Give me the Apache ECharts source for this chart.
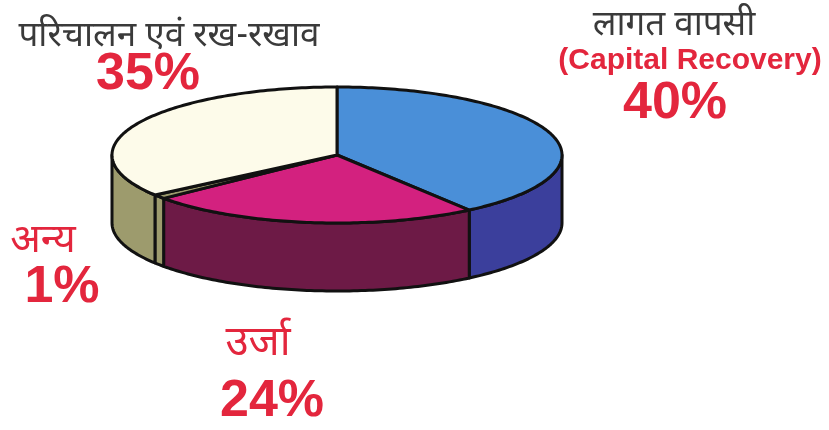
<!DOCTYPE html>
<html>
<head>
<meta charset="utf-8">
<script src="https://cdn.jsdelivr.net/npm/echarts@6/dist/echarts.min.js"></script>
<style>
  html, body { margin: 0; padding: 0; background: #ffffff; }
  #chart { width: 829px; height: 430px; }
</style>
</head>
<body>
<div id="chart"></div>
<script>
// Cost shares, clockwise from twelve o'clock
const categories = ['लागत वापसी', 'उर्जा', 'अन्य', 'परिचालन एवं रख-रखाव'];
const notes = ['(Capital Recovery)', '', '', ''];
const shares = [40, 24, 1, 35];

// Slice colours: top face and the darker outer wall
const topColors = ['#4a8fd8', '#d3217f', '#9d9b6d', '#fdfbea'];
const sideColors = ['#3b3f9c', '#6d1a46', '#9d9b6d', '#9d9b6d'];

// Tilted disc geometry (pixels)
const disc = { cx: 337, cy: 155, rx: 225, ry: 68, depth: 68, start: -90 };

// Label anchors (centre points) and text sizes for each slice
const labelLayout = [
  { name: [674, 28], nameSize: 35, note: [690, 61], value: [675, 104], nameColor: '#3a3a3a' },
  { name: [258, 347], nameSize: 42, value: [272, 402], nameColor: '#e3263d' },
  { name: [43, 245], nameSize: 40, value: [62, 288], nameColor: '#e3263d' },
  { name: [169, 39], nameSize: 35, value: [148, 75], nameColor: '#3a3a3a' }
];

const RED = '#e3263d';
const HINDI_FONT = '"Noto Sans Devanagari", "Lohit Devanagari", "Noto Sans", "DejaVu Sans", sans-serif';
const LATIN_FONT = '"Liberation Sans", Arial, sans-serif';
const OUTLINE = { stroke: '#111111', lineWidth: 3, lineJoin: 'round' };

const total = shares.reduce((a, b) => a + b, 0);

function arcPoints(a0, a1, dy) {
  const pts = [];
  const n = Math.max(2, Math.ceil(Math.abs(a1 - a0)));
  for (let k = 0; k <= n; k++) {
    const t = (a0 + (a1 - a0) * k / n) * Math.PI / 180;
    pts.push([disc.cx + disc.rx * Math.cos(t), disc.cy + dy + disc.ry * Math.sin(t)]);
  }
  return pts;
}

function renderSlice(params, api) {
  const i = params.dataIndex;
  const value = api.value(1);
  let before = 0;
  for (let k = 0; k < i; k++) before += shares[k];
  const a0 = disc.start + before / total * 360;
  const a1 = a0 + value / total * 360;

  const children = [];

  // Outer wall: only the front half of the disc (0..180 degrees) faces the viewer
  [[-360, -180], [0, 180], [360, 540]].forEach(([lo, hi]) => {
    const s = Math.max(a0, lo);
    const e = Math.min(a1, hi);
    if (e > s) {
      const upper = arcPoints(s, e, 0);
      const lower = arcPoints(e, s, disc.depth);
      children.push({
        type: 'polygon',
        z2: 1,
        shape: { points: upper.concat(lower) },
        style: Object.assign({ fill: sideColors[i] }, OUTLINE)
      });
    }
  });

  // Top face
  children.push({
    type: 'polygon',
    z2: 5,
    shape: { points: [[disc.cx, disc.cy]].concat(arcPoints(a0, a1, 0)) },
    style: Object.assign({ fill: topColors[i] }, OUTLINE)
  });

  return { type: 'group', children: children };
}

// Text labels built from the category names and shares
const graphics = [];
categories.forEach((name, i) => {
  const lay = labelLayout[i];
  graphics.push({
    type: 'text', x: lay.name[0], y: lay.name[1],
    style: {
      text: name, fill: lay.nameColor, font: lay.nameSize + 'px ' + HINDI_FONT,
      textAlign: 'center', textVerticalAlign: 'middle'
    }
  });
  if (notes[i]) {
    graphics.push({
      type: 'text', x: lay.note[0], y: lay.note[1],
      style: {
        text: notes[i], fill: RED, font: 'bold 30px ' + LATIN_FONT,
        textAlign: 'center', textVerticalAlign: 'middle'
      }
    });
  }
  graphics.push({
    type: 'text', x: lay.value[0], y: lay.value[1],
    style: {
      text: shares[i] + '%', fill: RED, font: 'bold 52px ' + LATIN_FONT,
      textAlign: 'center', textVerticalAlign: 'middle'
    }
  });
});

const chart = echarts.init(document.getElementById('chart'), null, { renderer: 'canvas' });
chart.setOption({
  backgroundColor: '#ffffff',
  animation: false,
  series: [{
    type: 'custom',
    coordinateSystem: 'none',
    renderItem: renderSlice,
    data: shares.map((v, i) => [i, v])
  }],
  graphic: graphics
});
</script>
</body>
</html>
